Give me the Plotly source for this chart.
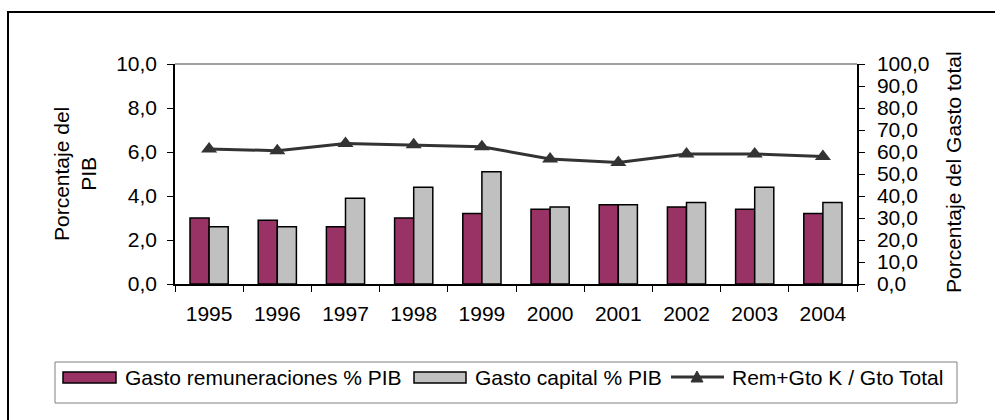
import plotly.graph_objects as go

years = ["1995", "1996", "1997", "1998", "1999", "2000", "2001", "2002", "2003", "2004"]
gasto_remuneraciones = [3.0, 2.9, 2.6, 3.0, 3.2, 3.4, 3.6, 3.5, 3.4, 3.2]
gasto_capital = [2.6, 2.6, 3.9, 4.4, 5.1, 3.5, 3.6, 3.7, 4.4, 3.7]
rem_gtok_total = [61.4, 60.6, 63.9, 63.3, 62.4, 56.8, 55.2, 59.1, 59.1, 57.9]

W, H = 995, 420
L, R, T, B = 175, 857, 64, 284
FONT = "Liberation Sans, Arial, sans-serif"
REM_COLOR = "#993366"
CAP_COLOR = "#C0C0C0"
LINE_COLOR = "#333333"
FS = 21


def px(x):
    return (x - L) / (R - L)


def py(y):
    return (B - y) / (B - T)


fig = go.Figure()
fig.add_trace(go.Bar(x=years, y=gasto_remuneraciones, name="Gasto remuneraciones % PIB",
                     marker=dict(color=REM_COLOR, line=dict(color="black", width=1.5)),
                     showlegend=False))
fig.add_trace(go.Bar(x=years, y=gasto_capital, name="Gasto capital % PIB",
                     marker=dict(color=CAP_COLOR, line=dict(color="black", width=1.5)),
                     showlegend=False))
fig.add_trace(go.Scatter(x=years, y=rem_gtok_total, name="Rem+Gto K / Gto Total", yaxis="y2",
                         mode="lines+markers",
                         line=dict(color=LINE_COLOR, width=3),
                         marker=dict(symbol="triangle-up", size=14, color=LINE_COLOR),
                         showlegend=False))

tickfont = dict(family=FONT, size=FS, color="black")

shapes = []
annotations = []

# outer chart frame
shapes.append(dict(type="rect", xref="paper", yref="paper",
                   x0=px(8), x1=px(1010), y0=py(12), y1=py(440),
                   line=dict(color="black", width=2), layer="below"))
# plot area top border (gray)
shapes.append(dict(type="line", xref="paper", yref="paper",
                   x0=0, x1=1, y0=1, y1=1, line=dict(color="#808080", width=1.5)))

# legend box
shapes.append(dict(type="rect", xref="paper", yref="paper",
                   x0=px(55), x1=px(957), y0=py(362), y1=py(403),
                   line=dict(color="#808080", width=1), fillcolor="white"))
ly = 377
# legend symbols
shapes.append(dict(type="rect", xref="paper", yref="paper",
                   x0=px(63), x1=px(116), y0=py(372), y1=py(383),
                   line=dict(color="black", width=1.5), fillcolor=REM_COLOR))
shapes.append(dict(type="rect", xref="paper", yref="paper",
                   x0=px(414), x1=px(466), y0=py(372), y1=py(383),
                   line=dict(color="black", width=1.5), fillcolor=CAP_COLOR))
shapes.append(dict(type="line", xref="paper", yref="paper",
                   x0=px(671), x1=px(724), y0=py(ly), y1=py(ly),
                   line=dict(color=LINE_COLOR, width=3)))
shapes.append(dict(type="path", xref="paper", yref="paper",
                   path="M {} {} L {} {} L {} {} Z".format(px(691), py(382), px(703), py(382), px(697), py(371)),
                   line=dict(color=LINE_COLOR, width=1), fillcolor=LINE_COLOR))

legend_items = [(123, "Gasto remuneraciones % PIB"), (473, "Gasto capital % PIB"), (730, "Rem+Gto K / Gto Total")]
for x0, txt in legend_items:
    annotations.append(dict(xref="paper", yref="paper", x=px(x0), y=py(ly), text=txt,
                            showarrow=False, xanchor="left", yanchor="middle",
                            font=dict(family=FONT, size=FS, color="black")))

# axis titles
annotations.append(dict(xref="paper", yref="paper", x=px(75), y=py(174),
                        text="Porcentaje del<br>PIB", textangle=-90, showarrow=False,
                        xanchor="center", yanchor="middle",
                        font=dict(family=FONT, size=FS, color="black")))
annotations.append(dict(xref="paper", yref="paper", x=px(953), y=py(172),
                        text="Porcentaje del Gasto total", textangle=-90, showarrow=False,
                        xanchor="center", yanchor="middle",
                        font=dict(family=FONT, size=FS, color="black")))

n = len(years)
fig.update_layout(
    width=W, height=H,
    margin=dict(l=L, r=W - R, t=T, b=H - B, pad=0),
    paper_bgcolor="white", plot_bgcolor="white",
    separators=",.",
    barmode="group", bargap=0.44, bargroupgap=0,
    showlegend=False,
    font=dict(family=FONT, size=FS, color="black"),
    xaxis=dict(type="category", range=[-0.5, n - 0.5], autorange=False,
               tickson="boundaries", ticks="outside", ticklen=6,
               tickcolor="black", tickwidth=1, showline=True, linecolor="black", linewidth=1.5,
               showgrid=False, tickfont=tickfont, ticklabelstandoff=10),
    xaxis2=dict(range=[-0.5, n - 0.5], overlaying="x", anchor="y", side="bottom",
                tickvals=[i - 0.5 for i in range(n + 1)], ticks="inside", ticklen=5,
                tickcolor="black", tickwidth=1, showticklabels=False, showline=False,
                showgrid=False, zeroline=False),
    yaxis=dict(range=[0, 10], dtick=2, tickformat=".1f", ticks="outside", ticklen=6,
               tickcolor="black", tickwidth=1, showline=True, linecolor="black", linewidth=1.5,
               showgrid=False, zeroline=False, tickfont=tickfont, ticklabelstandoff=6),
    yaxis2=dict(range=[0, 100], dtick=10, tickformat=".1f", overlaying="y", side="right",
                ticks="outside", ticklen=6, tickcolor="black", tickwidth=1,
                showline=True, linecolor="black", linewidth=1.5,
                showgrid=False, zeroline=False, tickfont=tickfont, ticklabelstandoff=8),
    yaxis3=dict(range=[0, 10], dtick=2, overlaying="y", side="left", anchor="x",
                ticks="inside", ticklen=5, tickcolor="black", tickwidth=1,
                showticklabels=False, showline=False, showgrid=False, zeroline=False),
    yaxis4=dict(range=[0, 100], dtick=10, overlaying="y", side="right", anchor="x",
                ticks="inside", ticklen=5, tickcolor="black", tickwidth=1,
                showticklabels=False, showline=False, showgrid=False, zeroline=False),
    shapes=shapes,
    annotations=annotations,
)

fig.write_html("out.html", config={"displayModeBar": False},
               post_script="document.body.style.margin='0px';")
